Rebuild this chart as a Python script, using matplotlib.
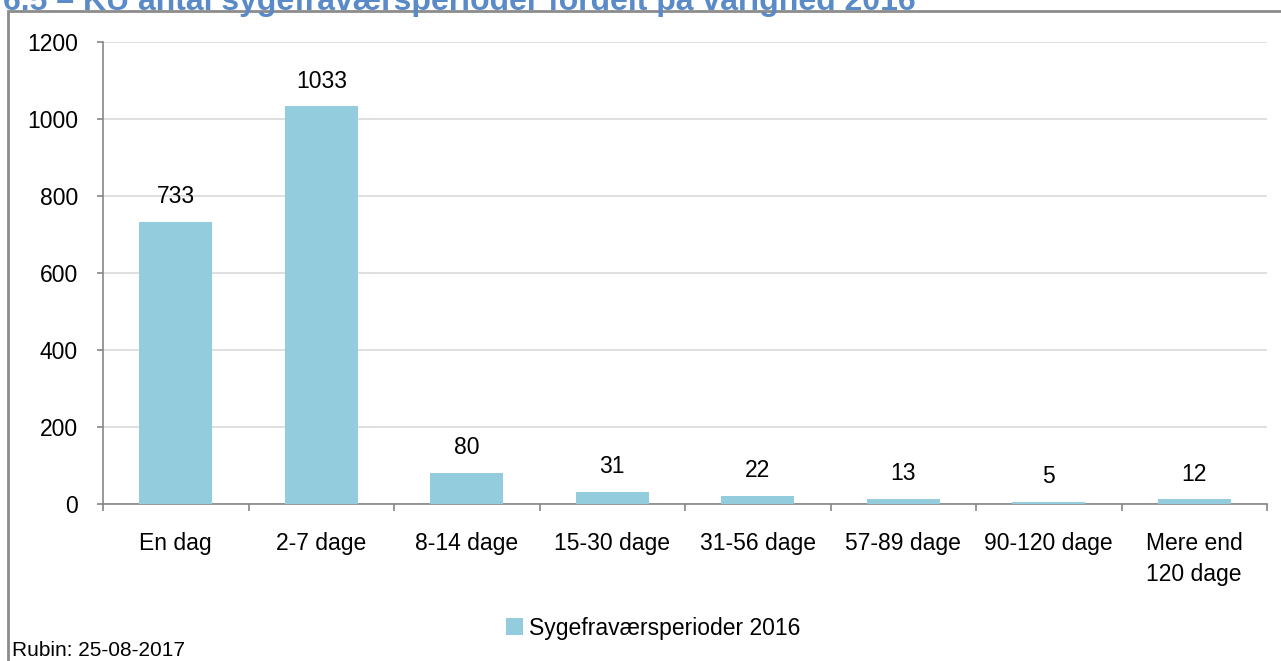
import matplotlib.pyplot as plt
from matplotlib.patches import Rectangle

plt.rcParams['font.family'] = ['Liberation Sans', 'DejaVu Sans']

# data
categories = ['En dag', '2-7 dage', '8-14 dage', '15-30 dage', '31-56 dage',
              '57-89 dage', '90-120 dage', 'Mere end\n120 dage']
values = [733, 1033, 80, 31, 22, 13, 5, 12]
series_name = 'Sygefraværsperioder 2016'
title = '6.5 \u2013 KU antal sygefraværsperioder fordelt på varighed 2016'
source = 'Rubin: 25-08-2017'

bar_color = '#93CDDD'
axis_color = '#868686'
fs = 16.5

fig = plt.figure(figsize=(12.81, 6.61), dpi=100)
W, H = 1281, 661
ax = fig.add_axes([103 / W, 1 - 504 / H, (1267 - 103) / W, (504 - 42) / H])

x = range(len(categories))
bars = ax.bar(x, values, width=0.5, color=bar_color, label=series_name, zorder=3)
for b, v in zip(bars, values):
    ax.annotate(str(v), (b.get_x() + b.get_width() / 2, v), xytext=(0, 13.5),
                textcoords='offset points', ha='center', va='baseline', fontsize=fs)

ax.set_xlim(-0.5, len(categories) - 0.5)
ax.set_ylim(0, 1200)
ax.set_yticks(range(0, 1201, 200))
ax.tick_params(axis='y', labelsize=fs, length=4.5, width=1.2, color=axis_color, pad=13.5)
ax.set_xticks(list(x))
ax.set_xticklabels(categories, fontsize=fs, linespacing=1.45)
ax.tick_params(axis='x', length=0, pad=20)
# category boundary ticks
ax.set_xticks([i - 0.5 for i in range(len(categories) + 1)], minor=True)
ax.tick_params(axis='x', which='minor', length=5, width=1.2, color=axis_color, direction='out')

ax.grid(axis='y', color='#D9D9D9', linewidth=1.2, zorder=0)
for s in ['top', 'right']:
    ax.spines[s].set_visible(False)
ax.spines['left'].set_color(axis_color)
ax.spines['bottom'].set_color(axis_color)
ax.spines['left'].set_linewidth(1.2)
ax.spines['bottom'].set_linewidth(1.2)

fig.legend(handles=[bars], labels=[series_name], loc='center', bbox_to_anchor=(653 / W, 1 - 628 / H),
           frameon=False, fontsize=fs, handlelength=0.75, handleheight=0.75, handletextpad=0.25,
           borderpad=0, borderaxespad=0)

# outer chart frame (cut off at right and bottom)
fig.patches.append(Rectangle((8 / W, -0.1), 1.2, 1 - 11 / H + 0.1, transform=fig.transFigure,
                             fill=False, edgecolor='#8C8C8C', linewidth=2))

# title is cropped at the top edge in the original
fig.text(3 / W, 1 - 10 / H, title, fontsize=23, fontweight='bold', color='#5A8AC8',
         ha='left', va='baseline')
fig.text(12 / W, 1 - 656 / H, source, fontsize=15, ha='left', va='baseline')

fig.savefig('out.png', dpi=100)
